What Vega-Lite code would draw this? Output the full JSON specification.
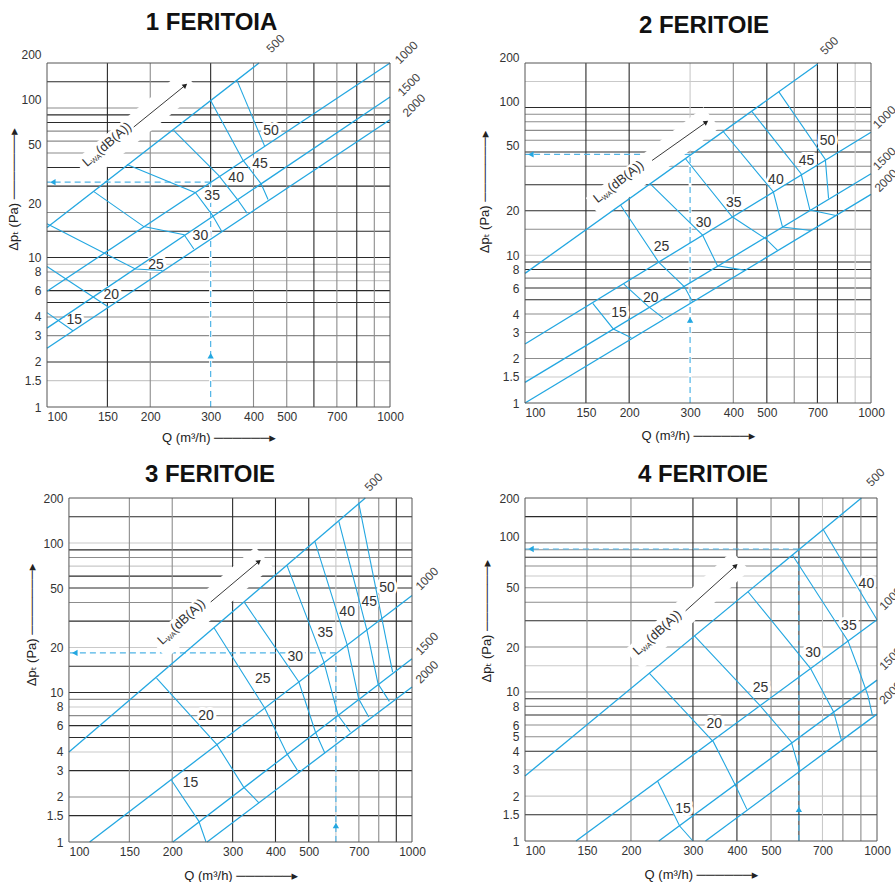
{
"$schema":"https://vega.github.io/schema/vega-lite/v6.json",
"background":"white",
"padding":{"left":7,"top":11,"right":0,"bottom":0},
"config":{"view":{"stroke":null},
"axis":{"grid":false,"ticks":false,"domain":false,"labelFont":"Liberation Sans, Arial, sans-serif","labelFontSize":12,"labelColor":"#333","titleFont":"Liberation Sans, DejaVu Sans, sans-serif","titleFontSize":13,"titleFontWeight":"normal","titleColor":"#222","labelOverlap":false,"labelFlush":false},
"title":{"font":"Liberation Sans, Arial, sans-serif","fontSize":24,"fontWeight":"bold","color":"#111","anchor":"middle","frame":"group","baseline":"alphabetic"}},
"datasets":{
"frame":[{"p":1,"Q":100,"Q2":1000,"P":1,"P2":200},{"p":2,"Q":100,"Q2":1000,"P":1,"P2":200},{"p":3,"Q":100,"Q2":1000,"P":1,"P2":200},{"p":4,"Q":100,"Q2":1000,"P":1,"P2":200}],
"grid":[
{"p":1,"d":"h","P":150,"Q":100,"Q2":1000,"t":"d"},{"p":1,"d":"h","P":100,"Q":100,"Q2":1000,"t":"m"},{"p":1,"d":"h","P":90,"Q":100,"Q2":1000,"t":"d"},{"p":1,"d":"h","P":80,"Q":100,"Q2":1000,"t":"d"},{"p":1,"d":"h","P":70,"Q":100,"Q2":1000,"t":"m"},{"p":1,"d":"h","P":60,"Q":100,"Q2":1000,"t":"m"},{"p":1,"d":"h","P":50,"Q":100,"Q2":1000,"t":"m"},{"p":1,"d":"h","P":40,"Q":100,"Q2":1000,"t":"d"},{"p":1,"d":"h","P":30,"Q":100,"Q2":1000,"t":"d"},{"p":1,"d":"h","P":20,"Q":100,"Q2":1000,"t":"m"},{"p":1,"d":"h","P":15,"Q":100,"Q2":1000,"t":"d"},{"p":1,"d":"h","P":10,"Q":100,"Q2":1000,"t":"d"},{"p":1,"d":"h","P":9,"Q":100,"Q2":1000,"t":"l"},{"p":1,"d":"h","P":8,"Q":100,"Q2":1000,"t":"m"},{"p":1,"d":"h","P":7,"Q":100,"Q2":1000,"t":"l"},{"p":1,"d":"h","P":6,"Q":100,"Q2":1000,"t":"d"},{"p":1,"d":"h","P":5,"Q":100,"Q2":1000,"t":"d"},{"p":1,"d":"h","P":4,"Q":100,"Q2":1000,"t":"m"},{"p":1,"d":"h","P":3,"Q":100,"Q2":1000,"t":"m"},{"p":1,"d":"h","P":2,"Q":100,"Q2":1000,"t":"d"},{"p":1,"d":"h","P":1.5,"Q":100,"Q2":1000,"t":"l"},
{"p":1,"d":"v","Q":150,"P":1,"P2":200,"t":"d"},{"p":1,"d":"v","Q":200,"P":1,"P2":200,"t":"m"},{"p":1,"d":"v","Q":300,"P":1,"P2":200,"t":"d"},{"p":1,"d":"v","Q":400,"P":1,"P2":200,"t":"m"},{"p":1,"d":"v","Q":500,"P":1,"P2":200,"t":"m"},{"p":1,"d":"v","Q":600,"P":1,"P2":200,"t":"d"},{"p":1,"d":"v","Q":700,"P":1,"P2":200,"t":"m"},{"p":1,"d":"v","Q":800,"P":1,"P2":200,"t":"d"},{"p":1,"d":"v","Q":900,"P":1,"P2":200,"t":"m"},
{"p":2,"d":"h","P":150,"Q":100,"Q2":1000,"t":"l"},{"p":2,"d":"h","P":100,"Q":100,"Q2":1000,"t":"d"},{"p":2,"d":"h","P":90,"Q":100,"Q2":1000,"t":"m"},{"p":2,"d":"h","P":80,"Q":100,"Q2":1000,"t":"m"},{"p":2,"d":"h","P":70,"Q":100,"Q2":1000,"t":"m"},{"p":2,"d":"h","P":60,"Q":100,"Q2":1000,"t":"m"},{"p":2,"d":"h","P":50,"Q":100,"Q2":1000,"t":"d"},{"p":2,"d":"h","P":40,"Q":100,"Q2":1000,"t":"m"},{"p":2,"d":"h","P":30,"Q":100,"Q2":1000,"t":"d"},{"p":2,"d":"h","P":20,"Q":100,"Q2":1000,"t":"d"},{"p":2,"d":"h","P":15,"Q":100,"Q2":1000,"t":"m"},{"p":2,"d":"h","P":10,"Q":100,"Q2":1000,"t":"l"},{"p":2,"d":"h","P":9,"Q":100,"Q2":1000,"t":"d"},{"p":2,"d":"h","P":8,"Q":100,"Q2":1000,"t":"d"},{"p":2,"d":"h","P":7,"Q":100,"Q2":1000,"t":"m"},{"p":2,"d":"h","P":6,"Q":100,"Q2":1000,"t":"d"},{"p":2,"d":"h","P":5,"Q":100,"Q2":1000,"t":"d"},{"p":2,"d":"h","P":4,"Q":100,"Q2":1000,"t":"m"},{"p":2,"d":"h","P":3,"Q":100,"Q2":1000,"t":"m"},{"p":2,"d":"h","P":2,"Q":100,"Q2":1000,"t":"m"},{"p":2,"d":"h","P":1.5,"Q":100,"Q2":1000,"t":"l"},
{"p":2,"d":"v","Q":150,"P":1,"P2":200,"t":"d"},{"p":2,"d":"v","Q":200,"P":1,"P2":200,"t":"d"},{"p":2,"d":"v","Q":300,"P":1,"P2":200,"t":"l"},{"p":2,"d":"v","Q":400,"P":1,"P2":200,"t":"m"},{"p":2,"d":"v","Q":500,"P":1,"P2":200,"t":"d"},{"p":2,"d":"v","Q":600,"P":1,"P2":200,"t":"m"},{"p":2,"d":"v","Q":700,"P":1,"P2":200,"t":"d"},{"p":2,"d":"v","Q":800,"P":1,"P2":200,"t":"d"},{"p":2,"d":"v","Q":900,"P":1,"P2":200,"t":"l"},
{"p":3,"d":"h","P":150,"Q":100,"Q2":1000,"t":"d"},{"p":3,"d":"h","P":100,"Q":100,"Q2":1000,"t":"l"},{"p":3,"d":"h","P":90,"Q":100,"Q2":1000,"t":"d"},{"p":3,"d":"h","P":80,"Q":100,"Q2":1000,"t":"m"},{"p":3,"d":"h","P":70,"Q":100,"Q2":1000,"t":"l"},{"p":3,"d":"h","P":60,"Q":100,"Q2":1000,"t":"d"},{"p":3,"d":"h","P":50,"Q":100,"Q2":1000,"t":"d"},{"p":3,"d":"h","P":40,"Q":100,"Q2":1000,"t":"m"},{"p":3,"d":"h","P":30,"Q":100,"Q2":1000,"t":"d"},{"p":3,"d":"h","P":20,"Q":100,"Q2":1000,"t":"l"},{"p":3,"d":"h","P":15,"Q":100,"Q2":1000,"t":"d"},{"p":3,"d":"h","P":10,"Q":100,"Q2":1000,"t":"d"},{"p":3,"d":"h","P":9,"Q":100,"Q2":1000,"t":"m"},{"p":3,"d":"h","P":8,"Q":100,"Q2":1000,"t":"l"},{"p":3,"d":"h","P":7,"Q":100,"Q2":1000,"t":"m"},{"p":3,"d":"h","P":6,"Q":100,"Q2":1000,"t":"d"},{"p":3,"d":"h","P":5,"Q":100,"Q2":1000,"t":"d"},{"p":3,"d":"h","P":4,"Q":100,"Q2":1000,"t":"l"},{"p":3,"d":"h","P":3,"Q":100,"Q2":1000,"t":"d"},{"p":3,"d":"h","P":2,"Q":100,"Q2":1000,"t":"m"},{"p":3,"d":"h","P":1.5,"Q":100,"Q2":1000,"t":"d"},
{"p":3,"d":"v","Q":150,"P":1,"P2":200,"t":"m"},{"p":3,"d":"v","Q":200,"P":1,"P2":200,"t":"m"},{"p":3,"d":"v","Q":300,"P":1,"P2":200,"t":"d"},{"p":3,"d":"v","Q":400,"P":1,"P2":200,"t":"d"},{"p":3,"d":"v","Q":500,"P":1,"P2":200,"t":"d"},{"p":3,"d":"v","Q":600,"P":1,"P2":200,"t":"l"},{"p":3,"d":"v","Q":700,"P":1,"P2":200,"t":"m"},{"p":3,"d":"v","Q":800,"P":1,"P2":200,"t":"m"},{"p":3,"d":"v","Q":900,"P":1,"P2":200,"t":"d"},
{"p":4,"d":"h","P":150,"Q":100,"Q2":1000,"t":"d"},{"p":4,"d":"h","P":100,"Q":100,"Q2":1000,"t":"m"},{"p":4,"d":"h","P":90,"Q":100,"Q2":1000,"t":"m"},{"p":4,"d":"h","P":80,"Q":100,"Q2":1000,"t":"d"},{"p":4,"d":"h","P":70,"Q":100,"Q2":1000,"t":"m"},{"p":4,"d":"h","P":60,"Q":100,"Q2":1000,"t":"l"},{"p":4,"d":"h","P":50,"Q":100,"Q2":1000,"t":"m"},{"p":4,"d":"h","P":40,"Q":100,"Q2":1000,"t":"m"},{"p":4,"d":"h","P":30,"Q":100,"Q2":1000,"t":"d"},{"p":4,"d":"h","P":20,"Q":100,"Q2":1000,"t":"m"},{"p":4,"d":"h","P":15,"Q":100,"Q2":1000,"t":"l"},{"p":4,"d":"h","P":10,"Q":100,"Q2":1000,"t":"m"},{"p":4,"d":"h","P":9,"Q":100,"Q2":1000,"t":"d"},{"p":4,"d":"h","P":8,"Q":100,"Q2":1000,"t":"m"},{"p":4,"d":"h","P":7,"Q":100,"Q2":1000,"t":"d"},{"p":4,"d":"h","P":6,"Q":100,"Q2":1000,"t":"m"},{"p":4,"d":"h","P":5,"Q":100,"Q2":1000,"t":"m"},{"p":4,"d":"h","P":4,"Q":100,"Q2":1000,"t":"d"},{"p":4,"d":"h","P":3,"Q":100,"Q2":1000,"t":"l"},{"p":4,"d":"h","P":2,"Q":100,"Q2":1000,"t":"l"},{"p":4,"d":"h","P":1.5,"Q":100,"Q2":1000,"t":"d"},
{"p":4,"d":"v","Q":150,"P":1,"P2":200,"t":"m"},{"p":4,"d":"v","Q":200,"P":1,"P2":200,"t":"m"},{"p":4,"d":"v","Q":300,"P":1,"P2":200,"t":"d"},{"p":4,"d":"v","Q":400,"P":1,"P2":200,"t":"d"},{"p":4,"d":"v","Q":500,"P":1,"P2":200,"t":"m"},{"p":4,"d":"v","Q":600,"P":1,"P2":200,"t":"d"},{"p":4,"d":"v","Q":700,"P":1,"P2":200,"t":"l"},{"p":4,"d":"v","Q":800,"P":1,"P2":200,"t":"m"},{"p":4,"d":"v","Q":900,"P":1,"P2":200,"t":"m"}
],
"diag":[
{"p":1,"id":"500","o":1,"Q":100,"P":15.9},{"p":1,"id":"500","o":2,"Q":415,"P":200},
{"p":1,"id":"1000","o":1,"Q":100,"P":5.94},{"p":1,"id":"1000","o":2,"Q":1000,"P":200},
{"p":1,"id":"1500","o":1,"Q":100,"P":3.37},{"p":1,"id":"1500","o":2,"Q":1000,"P":118.5},
{"p":1,"id":"2000","o":1,"Q":100,"P":2.47},{"p":1,"id":"2000","o":2,"Q":1000,"P":83.5},
{"p":2,"id":"500","o":1,"Q":100,"P":7.54},{"p":2,"id":"500","o":2,"Q":701,"P":197},
{"p":2,"id":"1000","o":1,"Q":100,"P":2.51},{"p":2,"id":"1000","o":2,"Q":1000,"P":68},
{"p":2,"id":"1500","o":1,"Q":100,"P":1.38},{"p":2,"id":"1500","o":2,"Q":1000,"P":35.6},
{"p":2,"id":"2000","o":1,"Q":100,"P":1.0},{"p":2,"id":"2000","o":2,"Q":1000,"P":25.8},
{"p":3,"id":"500","o":1,"Q":100,"P":4.0},{"p":3,"id":"500","o":2,"Q":731,"P":200},
{"p":3,"id":"1000","o":1,"Q":114.9,"P":1},{"p":3,"id":"1000","o":2,"Q":1000,"P":44.6},
{"p":3,"id":"1500","o":1,"Q":200.9,"P":1},{"p":3,"id":"1500","o":2,"Q":1000,"P":16.8},
{"p":3,"id":"2000","o":1,"Q":252.7,"P":1},{"p":3,"id":"2000","o":2,"Q":1000,"P":10.9},
{"p":4,"id":"500","o":1,"Q":100,"P":2.73},{"p":4,"id":"500","o":2,"Q":903,"P":200},
{"p":4,"id":"1000","o":1,"Q":139.6,"P":1},{"p":4,"id":"1000","o":2,"Q":1000,"P":30.5},
{"p":4,"id":"1500","o":1,"Q":239.9,"P":1},{"p":4,"id":"1500","o":2,"Q":1000,"P":12.0},
{"p":4,"id":"2000","o":1,"Q":325.7,"P":1},{"p":4,"id":"2000","o":2,"Q":1000,"P":7.1}
],
"curve":[
{"p":1,"id":"15","o":1,"Q":100,"P":4.28},{"p":1,"id":"15","o":2,"Q":119,"P":3.24},
{"p":1,"id":"20","o":1,"Q":100,"P":8.7},{"p":1,"id":"20","o":2,"Q":151,"P":4.66},
{"p":1,"id":"25","o":1,"Q":100,"P":16.8},{"p":1,"id":"25","o":2,"Q":181,"P":8.37},{"p":1,"id":"25","o":3,"Q":217,"P":8.18},
{"p":1,"id":"30","o":1,"Q":137,"P":27.6},{"p":1,"id":"30","o":2,"Q":191.5,"P":16.1},{"p":1,"id":"30","o":3,"Q":251,"P":14.2},{"p":1,"id":"30","o":4,"Q":268,"P":11.4},
{"p":1,"id":"35","o":1,"Q":171,"P":41.9},{"p":1,"id":"35","o":2,"Q":271,"P":27.1},{"p":1,"id":"35","o":3,"Q":303,"P":19.3},{"p":1,"id":"35","o":4,"Q":323,"P":15.0},
{"p":1,"id":"40","o":1,"Q":234,"P":70.8},{"p":1,"id":"40","o":2,"Q":317,"P":35.3},{"p":1,"id":"40","o":3,"Q":358,"P":24.7},{"p":1,"id":"40","o":4,"Q":383,"P":19.8},
{"p":1,"id":"45","o":1,"Q":300,"P":112.4},{"p":1,"id":"45","o":2,"Q":373,"P":44.6},{"p":1,"id":"45","o":3,"Q":421,"P":31.1},{"p":1,"id":"45","o":4,"Q":441,"P":24.4},
{"p":1,"id":"50","o":1,"Q":358,"P":153},{"p":1,"id":"50","o":2,"Q":431,"P":55.6},
{"p":2,"id":"15","o":1,"Q":157,"P":4.73},{"p":2,"id":"15","o":2,"Q":180,"P":3.17},{"p":2,"id":"15","o":3,"Q":203,"P":2.76},
{"p":2,"id":"20","o":1,"Q":193,"P":6.38},{"p":2,"id":"20","o":2,"Q":227,"P":4.51},{"p":2,"id":"20","o":3,"Q":251,"P":3.75},
{"p":2,"id":"25","o":1,"Q":189,"P":21.8},{"p":2,"id":"25","o":2,"Q":243,"P":9.03},{"p":2,"id":"25","o":3,"Q":289,"P":6.12},{"p":2,"id":"25","o":4,"Q":305,"P":4.85},
{"p":2,"id":"30","o":1,"Q":231,"P":30.2},{"p":2,"id":"30","o":2,"Q":326,"P":13.7},{"p":2,"id":"30","o":3,"Q":360,"P":8.48},{"p":2,"id":"30","o":4,"Q":430,"P":7.93},
{"p":2,"id":"35","o":1,"Q":291,"P":45.0},{"p":2,"id":"35","o":2,"Q":397,"P":18.2},{"p":2,"id":"35","o":3,"Q":495,"P":13.0},{"p":2,"id":"35","o":4,"Q":537,"P":10.8},
{"p":2,"id":"40","o":1,"Q":374,"P":68.8},{"p":2,"id":"40","o":2,"Q":522,"P":26.9},{"p":2,"id":"40","o":3,"Q":555,"P":15.5},{"p":2,"id":"40","o":4,"Q":671,"P":14.7},
{"p":2,"id":"45","o":1,"Q":453,"P":93.8},{"p":2,"id":"45","o":2,"Q":628,"P":35.6},{"p":2,"id":"45","o":3,"Q":666,"P":20.2},{"p":2,"id":"45","o":4,"Q":792,"P":18.6},
{"p":2,"id":"50","o":1,"Q":541,"P":128},{"p":2,"id":"50","o":2,"Q":738,"P":44.5},{"p":2,"id":"50","o":3,"Q":754,"P":24.2},
{"p":3,"id":"15","o":1,"Q":199,"P":2.59},{"p":3,"id":"15","o":2,"Q":239,"P":1.38},{"p":3,"id":"15","o":3,"Q":251,"P":1},
{"p":3,"id":"20","o":1,"Q":180,"P":12.5},{"p":3,"id":"20","o":2,"Q":270,"P":4.48},{"p":3,"id":"20","o":3,"Q":323,"P":2.33},{"p":3,"id":"20","o":4,"Q":358,"P":1.83},
{"p":3,"id":"25","o":1,"Q":265,"P":27.0},{"p":3,"id":"25","o":2,"Q":372,"P":7.88},{"p":3,"id":"25","o":3,"Q":432,"P":3.90},{"p":3,"id":"25","o":4,"Q":468,"P":2.91},
{"p":3,"id":"30","o":1,"Q":325,"P":39.9},{"p":3,"id":"30","o":2,"Q":468,"P":11.75},{"p":3,"id":"30","o":3,"Q":523,"P":5.44},{"p":3,"id":"30","o":4,"Q":557,"P":3.94},
{"p":3,"id":"35","o":1,"Q":432,"P":70.8},{"p":3,"id":"35","o":2,"Q":553,"P":16.1},{"p":3,"id":"35","o":3,"Q":609,"P":7.03},{"p":3,"id":"35","o":4,"Q":661,"P":5.44},
{"p":3,"id":"40","o":1,"Q":521,"P":102.5},{"p":3,"id":"40","o":2,"Q":647,"P":20.9},{"p":3,"id":"40","o":3,"Q":699,"P":9.09},{"p":3,"id":"40","o":4,"Q":748,"P":6.86},
{"p":3,"id":"45","o":1,"Q":612,"P":139.5},{"p":3,"id":"45","o":2,"Q":739,"P":26.0},{"p":3,"id":"45","o":3,"Q":796,"P":11.45},{"p":3,"id":"45","o":4,"Q":859,"P":8.72},
{"p":3,"id":"50","o":1,"Q":699,"P":186},{"p":3,"id":"50","o":2,"Q":878,"P":13.7},
{"p":4,"id":"15","o":1,"Q":238,"P":2.53},{"p":4,"id":"15","o":2,"Q":275,"P":1.26},{"p":4,"id":"15","o":3,"Q":300,"P":1},
{"p":4,"id":"20","o":1,"Q":225,"P":13.4},{"p":4,"id":"20","o":2,"Q":343,"P":4.62},{"p":4,"id":"20","o":3,"Q":396,"P":2.37},{"p":4,"id":"20","o":4,"Q":427,"P":1.63},
{"p":4,"id":"25","o":1,"Q":303,"P":23.8},{"p":4,"id":"25","o":2,"Q":464,"P":8.15},{"p":4,"id":"25","o":3,"Q":571,"P":4.62},{"p":4,"id":"25","o":4,"Q":603,"P":2.95},
{"p":4,"id":"30","o":1,"Q":430,"P":47.0},{"p":4,"id":"30","o":2,"Q":647,"P":14.4},{"p":4,"id":"30","o":3,"Q":753,"P":7.35},{"p":4,"id":"30","o":4,"Q":792,"P":4.77},
{"p":4,"id":"35","o":1,"Q":575,"P":82.9},{"p":4,"id":"35","o":2,"Q":827,"P":22.0},{"p":4,"id":"35","o":3,"Q":883,"P":14.6},{"p":4,"id":"35","o":4,"Q":943,"P":9.41},{"p":4,"id":"35","o":5,"Q":970,"P":6.99},
{"p":4,"id":"40","o":1,"Q":702,"P":124},{"p":4,"id":"40","o":2,"Q":1000,"P":30.5}
],
"clabel":[
{"p":1,"label":"15","Q":120,"P":3.81},{"p":1,"label":"20","Q":154,"P":5.61},{"p":1,"label":"25","Q":208,"P":8.91},{"p":1,"label":"30","Q":280,"P":13.9},{"p":1,"label":"35","Q":303,"P":25.9},{"p":1,"label":"40","Q":356,"P":33.9},{"p":1,"label":"45","Q":418,"P":41.9},{"p":1,"label":"50","Q":450,"P":70.1},
{"p":2,"label":"15","Q":187,"P":4.09},{"p":2,"label":"20","Q":231,"P":5.16},{"p":2,"label":"25","Q":248,"P":11.4},{"p":2,"label":"30","Q":328,"P":16.5},{"p":2,"label":"35","Q":401,"P":22.6},{"p":2,"label":"40","Q":531,"P":32.5},{"p":2,"label":"45","Q":651,"P":43.2},{"p":2,"label":"50","Q":749,"P":58.9},
{"p":3,"label":"15","Q":226,"P":2.49},{"p":3,"label":"20","Q":251,"P":6.96},{"p":3,"label":"25","Q":367,"P":12.4},{"p":3,"label":"30","Q":457,"P":17.3},{"p":3,"label":"35","Q":559,"P":25.1},{"p":3,"label":"40","Q":647,"P":34.6},{"p":3,"label":"45","Q":751,"P":40.3},{"p":3,"label":"50","Q":846,"P":50.2},
{"p":4,"label":"15","Q":281,"P":1.63},{"p":4,"label":"20","Q":345,"P":6.08},{"p":4,"label":"25","Q":467,"P":10.7},{"p":4,"label":"30","Q":658,"P":18.2},{"p":4,"label":"35","Q":832,"P":27.8},{"p":4,"label":"40","Q":933,"P":53.0}
],
"dlabel":[
{"p":1,"label":"500","Q":464,"P":270},{"p":1,"label":"1000","Q":1116,"P":235},{"p":1,"label":"1500","Q":1136,"P":143},{"p":1,"label":"2000","Q":1175,"P":104},
{"p":2,"label":"500","Q":758,"P":262},{"p":2,"label":"1000","Q":1093,"P":86},{"p":2,"label":"1500","Q":1093,"P":45},{"p":2,"label":"2000","Q":1105,"P":32},
{"p":3,"label":"500","Q":773,"P":256},{"p":3,"label":"1000","Q":1106,"P":57.7},{"p":3,"label":"1500","Q":1106,"P":21.2},{"p":3,"label":"2000","Q":1106,"P":13.7},
{"p":4,"label":"500","Q":991,"P":275},{"p":4,"label":"1000","Q":1094,"P":42.2},{"p":4,"label":"1500","Q":1094,"P":16.7},{"p":4,"label":"2000","Q":1094,"P":9.86}
],
"dash":[
{"p":1,"k":"v","o":1,"Q":300,"P":1},{"p":1,"k":"v","o":2,"Q":300,"P":31.9},{"p":1,"k":"h","o":1,"Q":300,"P":31.9},{"p":1,"k":"h","o":2,"Q":100,"P":31.9},
{"p":2,"k":"v","o":1,"Q":300,"P":1},{"p":2,"k":"v","o":2,"Q":300,"P":48.1},{"p":2,"k":"h","o":1,"Q":300,"P":48.1},{"p":2,"k":"h","o":2,"Q":100,"P":48.1},
{"p":3,"k":"v","o":1,"Q":600,"P":1},{"p":3,"k":"v","o":2,"Q":600,"P":18.4},{"p":3,"k":"h","o":1,"Q":600,"P":18.4},{"p":3,"k":"h","o":2,"Q":100,"P":18.4},
{"p":4,"k":"v","o":1,"Q":600,"P":1},{"p":4,"k":"v","o":2,"Q":600,"P":91},{"p":4,"k":"h","o":1,"Q":600,"P":91},{"p":4,"k":"h","o":2,"Q":100,"P":91}
],
"ahead":[
{"p":1,"dir":"up","Q":300,"P":2.2},{"p":1,"dir":"left","Q":104,"P":31.9},
{"p":2,"dir":"up","Q":300,"P":3.65},{"p":2,"dir":"left","Q":104,"P":48.1},
{"p":3,"dir":"up","Q":600,"P":1.29},{"p":3,"dir":"left","Q":104,"P":18.4},
{"p":4,"dir":"up","Q":600,"P":1.63},{"p":4,"dir":"left","Q":104,"P":91}
],
"band":[
{"p":1,"o":1,"Q":127,"P":38.0},{"p":1,"o":2,"Q":263,"P":152.4},
{"p":2,"o":1,"Q":158,"P":20.8},{"p":2,"o":2,"Q":346,"P":85.5},
{"p":3,"o":1,"Q":182,"P":19.6},{"p":3,"o":2,"Q":370,"P":81.0},
{"p":4,"o":1,"Q":203,"P":16.4},{"p":4,"o":2,"Q":410,"P":75.9}
],
"larrow":[
{"p":1,"o":1,"Q":179,"P":74.6},{"p":1,"o":2,"Q":253,"P":141.8},
{"p":2,"o":1,"Q":233,"P":43.8},{"p":2,"o":2,"Q":334,"P":79.5},
{"p":3,"o":1,"Q":259,"P":40.3},{"p":3,"o":2,"Q":358,"P":75.3},
{"p":4,"o":1,"Q":286,"P":35.0},{"p":4,"o":2,"Q":397,"P":70.3}
],
"ltext":[
{"p":1,"Q":130.8,"P":40.2},{"p":2,"Q":162,"P":22.4},{"p":3,"Q":187,"P":20.7},{"p":4,"Q":209,"P":17.5}
]
},
"bounds":"flush",
"columns":2,
"spacing":{"row":91,"column":113},
"concat":[
{"title":{"text":"1 FERITOIA","offset":-6.5,"dx":-7,"frame":"group"},"width":343,"height":344,
"encoding":{"x":{"field":"Q","type":"quantitative","scale":{"type":"log","domain":[100,1000],"nice":false},"axis":{"values":[100,150,200,300,400,500,700,1000],"format":"~g","labelPadding":4,"labelAlign":{"condition":{"test":"datum.value == 100","value":"left"},"value":"center"},"title":"Q (m³/h)  ──────▸","titleX":171.5,"titleY":34,"titleAlign":"center","titleBaseline":"alphabetic"}},
"y":{"field":"P","type":"quantitative","scale":{"type":"log","domain":[1,200],"nice":false},"axis":{"values":[1,1.5,2,3,4,6,8,10,20,50,100,200],"format":"~g","labelPadding":6,"labelOffset":{"condition":{"test":"datum.value >= 20","value":-9},"value":0},"title":"Δpₜ (Pa)  ───────▸","titleAngle":270,"titleX":-34,"titleY":126,"titleAlign":"center","titleBaseline":"middle"}}},
"layer":[
{"data":{"name":"grid"},"transform":[{"filter":"datum.p==1 && datum.d=='h'"}],"mark":{"type":"rule","strokeWidth":1.1},"encoding":{"x2":{"field":"Q2"},"color":{"field":"t","type":"nominal","scale":{"domain":["d","m","l"],"range":["#2a2a2a","#8c8c8c","#c9c9c9"]},"legend":null}}},
{"data":{"name":"grid"},"transform":[{"filter":"datum.p==1 && datum.d=='v'"}],"mark":{"type":"rule","strokeWidth":1.1},"encoding":{"y2":{"field":"P2"},"color":{"field":"t","type":"nominal","scale":{"domain":["d","m","l"],"range":["#2a2a2a","#8c8c8c","#c9c9c9"]},"legend":null}}},
{"data":{"name":"dash"},"transform":[{"filter":"datum.p==1 && datum.k=='v'"}],"mark":{"type":"line","color":"white","strokeWidth":3},"encoding":{"order":{"field":"o","type":"quantitative"}}},
{"data":{"name":"dash"},"transform":[{"filter":"datum.p==1"}],"mark":{"type":"line","color":"#4fb4e6","strokeWidth":1.2,"strokeDash":[6,4]},"encoding":{"detail":{"field":"k","type":"nominal"},"order":{"field":"o","type":"quantitative"}}},
{"data":{"name":"band"},"transform":[{"filter":"datum.p==1"}],"mark":{"type":"line","color":"white","strokeWidth":26,"strokeCap":"butt"},"encoding":{"order":{"field":"o","type":"quantitative"}}},
{"data":{"name":"clabel"},"transform":[{"filter":"datum.p==1"}],"mark":{"type":"text","font":"Liberation Sans, sans-serif","fontSize":14,"fill":"white","stroke":"white","strokeWidth":6,"strokeJoin":"round"},"encoding":{"text":{"field":"label"}}},
{"data":{"name":"diag"},"transform":[{"filter":"datum.p==1"}],"mark":{"type":"line","color":"#23a7e1","strokeWidth":1.3},"encoding":{"detail":{"field":"id","type":"nominal"},"order":{"field":"o","type":"quantitative"}}},
{"data":{"name":"curve"},"transform":[{"filter":"datum.p==1"}],"mark":{"type":"line","color":"#23a7e1","strokeWidth":1.1},"encoding":{"detail":{"field":"id","type":"nominal"},"order":{"field":"o","type":"quantitative"}}},
{"data":{"name":"clabel"},"transform":[{"filter":"datum.p==1"}],"mark":{"type":"text","font":"Liberation Sans, sans-serif","fontSize":14,"color":"#333"},"encoding":{"text":{"field":"label"}}},
{"data":{"name":"dlabel"},"transform":[{"filter":"datum.p==1"}],"mark":{"type":"text","font":"Liberation Sans, sans-serif","fontSize":12,"color":"#444","angle":-45},"encoding":{"text":{"field":"label"}}},
{"data":{"name":"ahead"},"transform":[{"filter":"datum.p==1"}],"mark":{"type":"point","filled":true,"color":"#23a7e1","size":40,"opacity":1},"encoding":{"shape":{"field":"dir","type":"nominal","scale":{"domain":["up","left"],"range":["triangle-up","triangle-left"]},"legend":null}}},
{"data":{"name":"larrow"},"transform":[{"filter":"datum.p==1"}],"mark":{"type":"line","color":"#222","strokeWidth":0.9},"encoding":{"order":{"field":"o","type":"quantitative"}}},
{"data":{"name":"larrow"},"transform":[{"filter":"datum.p==1 && datum.o==2"}],"mark":{"type":"point","shape":"triangle-up","angle":51,"filled":true,"color":"#222","size":30,"opacity":1}},
{"data":{"name":"ltext"},"transform":[{"filter":"datum.p==1"}],"mark":{"type":"text","text":"L","align":"left","baseline":"alphabetic","angle":-41,"font":"Liberation Sans, sans-serif","fontSize":13,"color":"#333"}},
{"data":{"name":"ltext"},"transform":[{"filter":"datum.p==1"}],"mark":{"type":"text","text":"WA","align":"left","baseline":"alphabetic","angle":-41,"dx":7,"dy":2,"font":"Liberation Sans, sans-serif","fontSize":7,"color":"#333"}},
{"data":{"name":"ltext"},"transform":[{"filter":"datum.p==1"}],"mark":{"type":"text","text":"(dB(A))","align":"left","baseline":"alphabetic","angle":-41,"dx":18,"font":"Liberation Sans, sans-serif","fontSize":13,"color":"#333"}},
{"data":{"name":"frame"},"transform":[{"filter":"datum.p==1"}],"mark":{"type":"rect","filled":false,"stroke":"#555","strokeWidth":1},"encoding":{"x2":{"field":"Q2"},"y2":{"field":"P2"}}}
]},
{"title":{"text":"2 FERITOIE","offset":-3.5,"dx":6,"frame":"group"},"width":346,"height":340,
"encoding":{"x":{"field":"Q","type":"quantitative","scale":{"type":"log","domain":[100,1000],"nice":false},"axis":{"values":[100,150,200,300,400,500,700,1000],"format":"~g","labelPadding":4,"labelAlign":{"condition":{"test":"datum.value == 100","value":"left"},"value":"center"},"title":"Q (m³/h)  ──────▸","titleX":173,"titleY":36,"titleAlign":"center","titleBaseline":"alphabetic"}},
"y":{"field":"P","type":"quantitative","scale":{"type":"log","domain":[1,200],"nice":false},"axis":{"values":[1,1.5,2,3,4,6,8,10,20,50,100,200],"format":"~g","labelPadding":6,"labelOffset":{"condition":{"test":"datum.value >= 50","value":-6},"value":0},"title":"Δpₜ (Pa)  ───────▸","titleAngle":270,"titleX":-40.7,"titleY":128.5,"titleAlign":"center","titleBaseline":"middle"}}},
"layer":[
{"data":{"name":"grid"},"transform":[{"filter":"datum.p==2 && datum.d=='h'"}],"mark":{"type":"rule","strokeWidth":1.1},"encoding":{"x2":{"field":"Q2"},"color":{"field":"t","type":"nominal","scale":{"domain":["d","m","l"],"range":["#2a2a2a","#8c8c8c","#c9c9c9"]},"legend":null}}},
{"data":{"name":"grid"},"transform":[{"filter":"datum.p==2 && datum.d=='v'"}],"mark":{"type":"rule","strokeWidth":1.1},"encoding":{"y2":{"field":"P2"},"color":{"field":"t","type":"nominal","scale":{"domain":["d","m","l"],"range":["#2a2a2a","#8c8c8c","#c9c9c9"]},"legend":null}}},
{"data":{"name":"dash"},"transform":[{"filter":"datum.p==2 && datum.k=='v'"}],"mark":{"type":"line","color":"white","strokeWidth":3},"encoding":{"order":{"field":"o","type":"quantitative"}}},
{"data":{"name":"dash"},"transform":[{"filter":"datum.p==2"}],"mark":{"type":"line","color":"#4fb4e6","strokeWidth":1.2,"strokeDash":[6,4]},"encoding":{"detail":{"field":"k","type":"nominal"},"order":{"field":"o","type":"quantitative"}}},
{"data":{"name":"band"},"transform":[{"filter":"datum.p==2"}],"mark":{"type":"line","color":"white","strokeWidth":26,"strokeCap":"butt"},"encoding":{"order":{"field":"o","type":"quantitative"}}},
{"data":{"name":"clabel"},"transform":[{"filter":"datum.p==2"}],"mark":{"type":"text","font":"Liberation Sans, sans-serif","fontSize":14,"fill":"white","stroke":"white","strokeWidth":6,"strokeJoin":"round"},"encoding":{"text":{"field":"label"}}},
{"data":{"name":"diag"},"transform":[{"filter":"datum.p==2"}],"mark":{"type":"line","color":"#23a7e1","strokeWidth":1.3},"encoding":{"detail":{"field":"id","type":"nominal"},"order":{"field":"o","type":"quantitative"}}},
{"data":{"name":"curve"},"transform":[{"filter":"datum.p==2"}],"mark":{"type":"line","color":"#23a7e1","strokeWidth":1.1},"encoding":{"detail":{"field":"id","type":"nominal"},"order":{"field":"o","type":"quantitative"}}},
{"data":{"name":"clabel"},"transform":[{"filter":"datum.p==2"}],"mark":{"type":"text","font":"Liberation Sans, sans-serif","fontSize":14,"color":"#333"},"encoding":{"text":{"field":"label"}}},
{"data":{"name":"dlabel"},"transform":[{"filter":"datum.p==2"}],"mark":{"type":"text","font":"Liberation Sans, sans-serif","fontSize":12,"color":"#444","angle":-45},"encoding":{"text":{"field":"label"}}},
{"data":{"name":"ahead"},"transform":[{"filter":"datum.p==2"}],"mark":{"type":"point","filled":true,"color":"#23a7e1","size":40,"opacity":1},"encoding":{"shape":{"field":"dir","type":"nominal","scale":{"domain":["up","left"],"range":["triangle-up","triangle-left"]},"legend":null}}},
{"data":{"name":"larrow"},"transform":[{"filter":"datum.p==2"}],"mark":{"type":"line","color":"#222","strokeWidth":0.9},"encoding":{"order":{"field":"o","type":"quantitative"}}},
{"data":{"name":"larrow"},"transform":[{"filter":"datum.p==2 && datum.o==2"}],"mark":{"type":"point","shape":"triangle-up","angle":55,"filled":true,"color":"#222","size":30,"opacity":1}},
{"data":{"name":"ltext"},"transform":[{"filter":"datum.p==2"}],"mark":{"type":"text","text":"L","align":"left","baseline":"alphabetic","angle":-38,"font":"Liberation Sans, sans-serif","fontSize":13,"color":"#333"}},
{"data":{"name":"ltext"},"transform":[{"filter":"datum.p==2"}],"mark":{"type":"text","text":"WA","align":"left","baseline":"alphabetic","angle":-38,"dx":7,"dy":2,"font":"Liberation Sans, sans-serif","fontSize":7,"color":"#333"}},
{"data":{"name":"ltext"},"transform":[{"filter":"datum.p==2"}],"mark":{"type":"text","text":"(dB(A))","align":"left","baseline":"alphabetic","angle":-38,"dx":18,"font":"Liberation Sans, sans-serif","fontSize":13,"color":"#333"}},
{"data":{"name":"frame"},"transform":[{"filter":"datum.p==2"}],"mark":{"type":"rect","filled":false,"stroke":"#555","strokeWidth":1},"encoding":{"x2":{"field":"Q2"},"y2":{"field":"P2"}}}
]},
{"title":{"text":"3 FERITOIE","offset":-16.2,"dx":-19.5,"frame":"group"},"width":365,"height":344,
"encoding":{"x":{"field":"Q","type":"quantitative","scale":{"type":"log","domain":[86.3,1000],"nice":false},"axis":{"values":[100,150,200,300,400,500,700,1000],"format":"~g","labelPadding":4,"labelAlign":{"condition":{"test":"datum.value == 100","value":"left"},"value":"center"},"title":"Q (m³/h)  ──────▸","titleX":193.7,"titleY":37,"titleAlign":"center","titleBaseline":"alphabetic"}},
"y":{"field":"P","type":"quantitative","scale":{"type":"log","domain":[1,200],"nice":false},"axis":{"offset":-22,"values":[1,1.5,2,3,4,6,8,10,20,50,100,200],"format":"~g","labelPadding":6,"title":"Δpₜ (Pa)  ───────▸","titleAngle":270,"titleX":-37.7,"titleY":126.5,"titleAlign":"center","titleBaseline":"middle"}}},
"layer":[
{"data":{"name":"grid"},"transform":[{"filter":"datum.p==3 && datum.d=='h'"}],"mark":{"type":"rule","strokeWidth":1.1},"encoding":{"x2":{"field":"Q2"},"color":{"field":"t","type":"nominal","scale":{"domain":["d","m","l"],"range":["#2a2a2a","#8c8c8c","#c9c9c9"]},"legend":null}}},
{"data":{"name":"grid"},"transform":[{"filter":"datum.p==3 && datum.d=='v'"}],"mark":{"type":"rule","strokeWidth":1.1},"encoding":{"y2":{"field":"P2"},"color":{"field":"t","type":"nominal","scale":{"domain":["d","m","l"],"range":["#2a2a2a","#8c8c8c","#c9c9c9"]},"legend":null}}},
{"data":{"name":"dash"},"transform":[{"filter":"datum.p==3"}],"mark":{"type":"line","color":"#4fb4e6","strokeWidth":1.2,"strokeDash":[6,4]},"encoding":{"detail":{"field":"k","type":"nominal"},"order":{"field":"o","type":"quantitative"}}},
{"data":{"name":"band"},"transform":[{"filter":"datum.p==3"}],"mark":{"type":"line","color":"white","strokeWidth":26,"strokeCap":"butt"},"encoding":{"order":{"field":"o","type":"quantitative"}}},
{"data":{"name":"clabel"},"transform":[{"filter":"datum.p==3"}],"mark":{"type":"text","font":"Liberation Sans, sans-serif","fontSize":14,"fill":"white","stroke":"white","strokeWidth":6,"strokeJoin":"round"},"encoding":{"text":{"field":"label"}}},
{"data":{"name":"diag"},"transform":[{"filter":"datum.p==3"}],"mark":{"type":"line","color":"#23a7e1","strokeWidth":1.3},"encoding":{"detail":{"field":"id","type":"nominal"},"order":{"field":"o","type":"quantitative"}}},
{"data":{"name":"curve"},"transform":[{"filter":"datum.p==3"}],"mark":{"type":"line","color":"#23a7e1","strokeWidth":1.1},"encoding":{"detail":{"field":"id","type":"nominal"},"order":{"field":"o","type":"quantitative"}}},
{"data":{"name":"clabel"},"transform":[{"filter":"datum.p==3"}],"mark":{"type":"text","font":"Liberation Sans, sans-serif","fontSize":14,"color":"#333"},"encoding":{"text":{"field":"label"}}},
{"data":{"name":"dlabel"},"transform":[{"filter":"datum.p==3"}],"mark":{"type":"text","font":"Liberation Sans, sans-serif","fontSize":12,"color":"#444","angle":-45},"encoding":{"text":{"field":"label"}}},
{"data":{"name":"ahead"},"transform":[{"filter":"datum.p==3"}],"mark":{"type":"point","filled":true,"color":"#23a7e1","size":40,"opacity":1},"encoding":{"shape":{"field":"dir","type":"nominal","scale":{"domain":["up","left"],"range":["triangle-up","triangle-left"]},"legend":null}}},
{"data":{"name":"larrow"},"transform":[{"filter":"datum.p==3"}],"mark":{"type":"line","color":"#222","strokeWidth":0.9},"encoding":{"order":{"field":"o","type":"quantitative"}}},
{"data":{"name":"larrow"},"transform":[{"filter":"datum.p==3 && datum.o==2"}],"mark":{"type":"point","shape":"triangle-up","angle":50,"filled":true,"color":"#222","size":30,"opacity":1}},
{"data":{"name":"ltext"},"transform":[{"filter":"datum.p==3"}],"mark":{"type":"text","text":"L","align":"left","baseline":"alphabetic","angle":-43,"font":"Liberation Sans, sans-serif","fontSize":13,"color":"#333"}},
{"data":{"name":"ltext"},"transform":[{"filter":"datum.p==3"}],"mark":{"type":"text","text":"WA","align":"left","baseline":"alphabetic","angle":-43,"dx":7,"dy":2,"font":"Liberation Sans, sans-serif","fontSize":7,"color":"#333"}},
{"data":{"name":"ltext"},"transform":[{"filter":"datum.p==3"}],"mark":{"type":"text","text":"(dB(A))","align":"left","baseline":"alphabetic","angle":-43,"dx":18,"font":"Liberation Sans, sans-serif","fontSize":13,"color":"#333"}},
{"data":{"name":"frame"},"transform":[{"filter":"datum.p==3"}],"mark":{"type":"rect","filled":false,"stroke":"#555","strokeWidth":1},"encoding":{"x2":{"field":"Q2"},"y2":{"field":"P2"}}}
]},
{"title":{"text":"4 FERITOIE","offset":-20.7,"dx":2,"frame":"group"},"width":352,"height":343,
"encoding":{"x":{"field":"Q","type":"quantitative","scale":{"type":"log","domain":[100,1000],"nice":false},"axis":{"values":[100,150,200,300,400,500,700,1000],"format":"~g","labelPadding":4,"labelAlign":{"condition":{"test":"datum.value == 100","value":"left"},"value":"center"},"title":"Q (m³/h)  ──────▸","titleX":176,"titleY":37,"titleAlign":"center","titleBaseline":"alphabetic"}},
"y":{"field":"P","type":"quantitative","scale":{"type":"log","domain":[1,200],"nice":false},"axis":{"values":[1,1.5,2,3,4,5,6,8,10,20,50,100,200],"format":"~g","labelPadding":6,"labelOffset":{"condition":{"test":"datum.value == 100","value":-6},"value":0},"title":"Δpₜ (Pa)  ───────▸","titleAngle":270,"titleX":-38.4,"titleY":122.7,"titleAlign":"center","titleBaseline":"middle"}}},
"layer":[
{"data":{"name":"grid"},"transform":[{"filter":"datum.p==4 && datum.d=='h'"}],"mark":{"type":"rule","strokeWidth":1.1},"encoding":{"x2":{"field":"Q2"},"color":{"field":"t","type":"nominal","scale":{"domain":["d","m","l"],"range":["#2a2a2a","#8c8c8c","#c9c9c9"]},"legend":null}}},
{"data":{"name":"grid"},"transform":[{"filter":"datum.p==4 && datum.d=='v'"}],"mark":{"type":"rule","strokeWidth":1.1},"encoding":{"y2":{"field":"P2"},"color":{"field":"t","type":"nominal","scale":{"domain":["d","m","l"],"range":["#2a2a2a","#8c8c8c","#c9c9c9"]},"legend":null}}},
{"data":{"name":"dash"},"transform":[{"filter":"datum.p==4"}],"mark":{"type":"line","color":"#4fb4e6","strokeWidth":1.2,"strokeDash":[6,4]},"encoding":{"detail":{"field":"k","type":"nominal"},"order":{"field":"o","type":"quantitative"}}},
{"data":{"name":"band"},"transform":[{"filter":"datum.p==4"}],"mark":{"type":"line","color":"white","strokeWidth":26,"strokeCap":"butt"},"encoding":{"order":{"field":"o","type":"quantitative"}}},
{"data":{"name":"clabel"},"transform":[{"filter":"datum.p==4"}],"mark":{"type":"text","font":"Liberation Sans, sans-serif","fontSize":14,"fill":"white","stroke":"white","strokeWidth":6,"strokeJoin":"round"},"encoding":{"text":{"field":"label"}}},
{"data":{"name":"diag"},"transform":[{"filter":"datum.p==4"}],"mark":{"type":"line","color":"#23a7e1","strokeWidth":1.3},"encoding":{"detail":{"field":"id","type":"nominal"},"order":{"field":"o","type":"quantitative"}}},
{"data":{"name":"curve"},"transform":[{"filter":"datum.p==4"}],"mark":{"type":"line","color":"#23a7e1","strokeWidth":1.1},"encoding":{"detail":{"field":"id","type":"nominal"},"order":{"field":"o","type":"quantitative"}}},
{"data":{"name":"clabel"},"transform":[{"filter":"datum.p==4"}],"mark":{"type":"text","font":"Liberation Sans, sans-serif","fontSize":14,"color":"#333"},"encoding":{"text":{"field":"label"}}},
{"data":{"name":"dlabel"},"transform":[{"filter":"datum.p==4"}],"mark":{"type":"text","font":"Liberation Sans, sans-serif","fontSize":12,"color":"#444","angle":-45},"encoding":{"text":{"field":"label"}}},
{"data":{"name":"ahead"},"transform":[{"filter":"datum.p==4"}],"mark":{"type":"point","filled":true,"color":"#23a7e1","size":40,"opacity":1},"encoding":{"shape":{"field":"dir","type":"nominal","scale":{"domain":["up","left"],"range":["triangle-up","triangle-left"]},"legend":null}}},
{"data":{"name":"larrow"},"transform":[{"filter":"datum.p==4"}],"mark":{"type":"line","color":"#222","strokeWidth":0.9},"encoding":{"order":{"field":"o","type":"quantitative"}}},
{"data":{"name":"larrow"},"transform":[{"filter":"datum.p==4 && datum.o==2"}],"mark":{"type":"point","shape":"triangle-up","angle":48,"filled":true,"color":"#222","size":30,"opacity":1}},
{"data":{"name":"ltext"},"transform":[{"filter":"datum.p==4"}],"mark":{"type":"text","text":"L","align":"left","baseline":"alphabetic","angle":-42,"font":"Liberation Sans, sans-serif","fontSize":13,"color":"#333"}},
{"data":{"name":"ltext"},"transform":[{"filter":"datum.p==4"}],"mark":{"type":"text","text":"WA","align":"left","baseline":"alphabetic","angle":-42,"dx":7,"dy":2,"font":"Liberation Sans, sans-serif","fontSize":7,"color":"#333"}},
{"data":{"name":"ltext"},"transform":[{"filter":"datum.p==4"}],"mark":{"type":"text","text":"(dB(A))","align":"left","baseline":"alphabetic","angle":-42,"dx":18,"font":"Liberation Sans, sans-serif","fontSize":13,"color":"#333"}},
{"data":{"name":"frame"},"transform":[{"filter":"datum.p==4"}],"mark":{"type":"rect","filled":false,"stroke":"#555","strokeWidth":1},"encoding":{"x2":{"field":"Q2"},"y2":{"field":"P2"}}}
]}
]
}
